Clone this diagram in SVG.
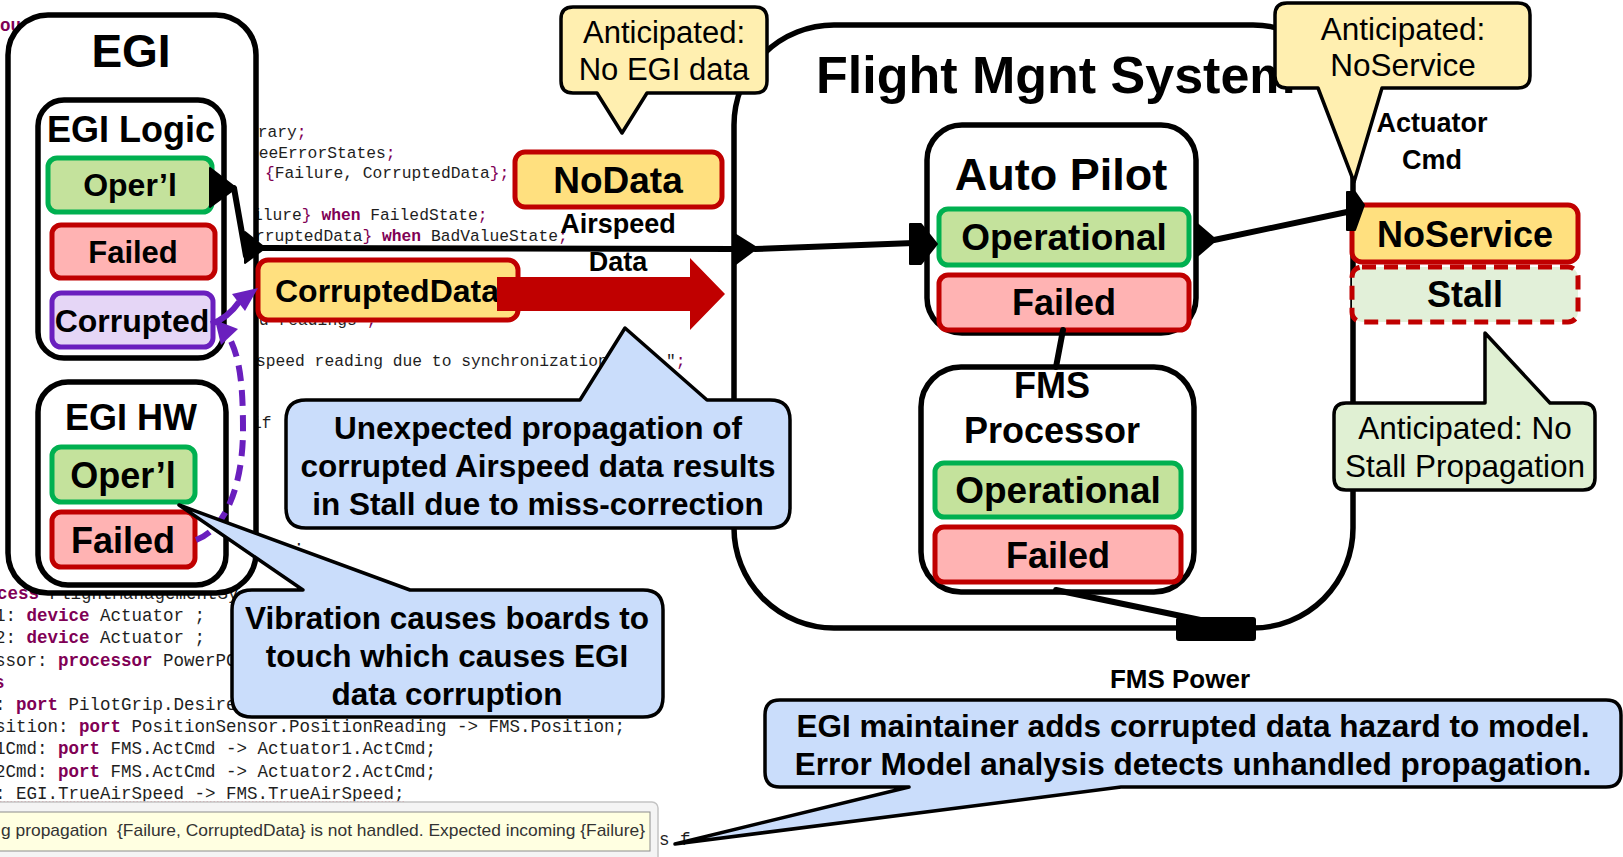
<svg xmlns="http://www.w3.org/2000/svg" width="1623" height="857" viewBox="0 0 1623 857">
  <defs>
    <style>
      .box{fill:#fff;stroke:#000;stroke-width:5.5}
      .ok{fill:#C4E29C;stroke:#00B050;stroke-width:5}
      .bad{fill:#FFB3B3;stroke:#C00000;stroke-width:5}
      .cor{fill:#E5D6F6;stroke:#6A1FBE;stroke-width:5}
      .haz{fill:#FFE07F;stroke:#C00000;stroke-width:5}
      .stall{fill:#E2F0D9;stroke:#C00000;stroke-width:5;stroke-dasharray:14 8}
      .lbl{font-family:"Liberation Sans",Arial,sans-serif;font-weight:bold;fill:#000;text-anchor:middle}
      .note{font-family:"Liberation Sans",Arial,sans-serif;fill:#000;text-anchor:middle}
      .co-y{fill:#FFEFB0;stroke:#000;stroke-width:3.5;stroke-linejoin:round}
      .co-b{fill:#CADDFB;stroke:#000;stroke-width:3.5;stroke-linejoin:round}
      .co-g{fill:#E0F0D3;stroke:#000;stroke-width:3.5;stroke-linejoin:round}
      .wire{stroke:#000;stroke-width:6;fill:none;stroke-linecap:round}
      .port{fill:#000;stroke:#000;stroke-width:2;stroke-linejoin:round}
      .err{stroke:#6A1FBE;stroke-width:6;fill:none}
      .code{font-family:"Liberation Mono","DejaVu Sans Mono",monospace;fill:#1E1E1E}
      .up{font-size:16.3px}
      .lo{font-size:17.5px}
      .kw{fill:#7F0055;font-weight:bold}
      .pn{fill:#7F0055}
    </style>
  </defs>

  <rect x="0" y="0" width="1623" height="857" fill="#fff"/>

  <!-- editor text behind the model -->
  <g id="code" xml:space="preserve">
    <text class="code lo kw" x="0" y="31" font-size="15">ou</text>

    <text class="code up" x="248" y="137">brary<tspan class="pn">;</tspan></text>
    <text class="code up" x="249" y="158">reeErrorStates<tspan class="pn">;</tspan></text>
    <text class="code up" x="265" y="178"><tspan class="pn">{</tspan>Failure, CorruptedData<tspan class="pn">};</tspan></text>
    <text class="code up" x="253" y="220">ilure<tspan class="pn">}</tspan> <tspan class="kw">when</tspan> FailedState<tspan class="pn">;</tspan></text>
    <text class="code up" x="255" y="241">rruptedData<tspan class="pn">}</tspan> <tspan class="kw">when</tspan> BadValueState<tspan class="pn">;</tspan></text>
    <text class="code up" x="259" y="325">d readings<tspan class="pn">";</tspan></text>
    <text class="code up" x="256" y="366">speed reading due to synchronization</text>
    <text class="code up" x="666" y="366">"<tspan class="pn">;</tspan></text>
    <text class="code up" x="252" y="428">if</text>
    <text class="code up" x="294" y="552">;</text>

    <text class="code lo" x="-3" y="599"><tspan class="kw">cess</tspan> FlightManagementSy</text>
    <text class="code lo" x="-5" y="621">1: <tspan class="kw">device</tspan> Actuator ;</text>
    <text class="code lo" x="-5" y="643">2: <tspan class="kw">device</tspan> Actuator ;</text>
    <text class="code lo" x="-5" y="666">ssor: <tspan class="kw">processor</tspan> PowerPC</text>
    <text class="code lo" x="-6" y="688"><tspan class="kw">s</tspan></text>
    <text class="code lo" x="-5" y="710">: <tspan class="kw">port</tspan> PilotGrip.Desire</text>
    <text class="code lo" x="-5" y="732">sition: <tspan class="kw">port</tspan> PositionSensor.PositionReading -&gt; FMS.Position;</text>
    <text class="code lo" x="-5" y="754">1Cmd: <tspan class="kw">port</tspan> FMS.ActCmd -&gt; Actuator1.ActCmd;</text>
    <text class="code lo" x="-5" y="777">2Cmd: <tspan class="kw">port</tspan> FMS.ActCmd -&gt; Actuator2.ActCmd;</text>
    <text class="code lo" x="-5" y="799">: EGI.TrueAirSpeed -&gt; FMS.TrueAirSpeed;</text>
    <line x1="0" y1="802" x2="404" y2="802" stroke="#E06878" stroke-width="1.5" stroke-dasharray="1.5 2"/>
    <text class="code lo" x="659" y="845">s f</text>
  </g>

  <!-- problem hover -->
  <g id="tooltip">
    <rect x="-10" y="802" width="668" height="70" rx="6" fill="#F4F4F4" stroke="#C4C4C4" stroke-width="1.5"/>
    <rect x="-10" y="812" width="660" height="39" fill="#FFFFE1" stroke="#8C8C8C" stroke-width="1"/>
    <text x="1" y="836" font-family="'Liberation Sans',Arial,sans-serif" font-size="17" fill="#333" textLength="644" lengthAdjust="spacingAndGlyphs">g propagation&#160; {Failure, CorruptedData} is not handled. Expected incoming {Failure}</text>
  </g>

  <!-- Flight Management System -->
  <g id="fms">
    <rect class="box" x="734" y="25" width="619" height="603" rx="100"/>
    <text class="lbl" x="816" y="93" font-size="52" style="text-anchor:start">Flight Mgnt System</text>
  </g>

  <g id="autopilot">
    <rect class="box" x="927" y="125" width="269" height="208" rx="35"/>
    <text class="lbl" x="1061" y="190" font-size="45">Auto Pilot</text>
    <rect class="ok" x="939" y="209" width="250" height="56" rx="9"/>
    <text class="lbl" x="1064" y="250" font-size="37">Operational</text>
    <rect class="bad" x="939" y="275" width="250" height="55" rx="9"/>
    <text class="lbl" x="1064" y="315" font-size="36">Failed</text>
  </g>

  <g id="fms-processor">
    <rect class="box" x="921" y="367" width="273" height="225" rx="40"/>
    <text class="lbl" x="1052" y="398" font-size="36">FMS</text>
    <text class="lbl" x="1052" y="443" font-size="36">Processor</text>
    <rect class="ok" x="935" y="463" width="246" height="54" rx="9"/>
    <text class="lbl" x="1058" y="503" font-size="37">Operational</text>
    <rect class="bad" x="935" y="527" width="246" height="55" rx="9"/>
    <text class="lbl" x="1058" y="568" font-size="36">Failed</text>
  </g>

  <!-- EGI -->
  <g id="egi">
    <rect class="box" x="8" y="15" width="248" height="578" rx="40"/>
    <text class="lbl" x="131" y="67" font-size="46">EGI</text>
  </g>

  <g id="egi-logic">
    <rect class="box" x="38" y="100" width="186" height="258" rx="26"/>
    <text class="lbl" x="131" y="142" font-size="36">EGI Logic</text>
    <rect class="ok" x="48" y="158" width="164" height="54" rx="9"/>
    <text class="lbl" x="130" y="196" font-size="32">Oper’l</text>
    <rect class="bad" x="52" y="225" width="163" height="53" rx="9"/>
    <text class="lbl" x="133" y="263" font-size="31">Failed</text>
    <rect class="cor" x="52" y="293" width="161" height="54" rx="9"/>
    <text class="lbl" x="132" y="332" font-size="32">Corrupted</text>
  </g>

  <g id="egi-hw">
    <rect class="box" x="38" y="382" width="188" height="203" rx="30"/>
    <text class="lbl" x="131" y="430" font-size="36">EGI HW</text>
    <rect class="ok" x="52" y="447" width="143" height="55" rx="9"/>
    <text class="lbl" x="123" y="488" font-size="36">Oper’l</text>
    <rect class="bad" x="52" y="512" width="143" height="55" rx="9"/>
    <text class="lbl" x="123" y="553" font-size="36">Failed</text>
  </g>

  <!-- propagated error types -->
  <g id="nodata">
    <rect class="haz" x="515" y="152" width="207" height="55" rx="10"/>
    <text class="lbl" x="618" y="193" font-size="37">NoData</text>
  </g>
  <g id="corrupteddata">
    <rect class="haz" x="258" y="260" width="260" height="60" rx="10"/>
    <text class="lbl" x="275" y="302" font-size="32" style="text-anchor:start">CorruptedData</text>
  </g>
  <g id="noservice">
    <rect class="haz" x="1352" y="205" width="226" height="57" rx="10"/>
    <text class="lbl" x="1465" y="247" font-size="36">NoService</text>
  </g>
  <g id="stall">
    <rect class="stall" x="1352" y="267" width="226" height="55" rx="10"/>
    <text class="lbl" x="1465" y="307" font-size="36">Stall</text>
  </g>

  <!-- connections -->
  <g id="connectors">
    <line class="wire" x1="234" y1="188" x2="246" y2="256"/>
    <line class="wire" x1="262" y1="248" x2="734" y2="249" stroke-linecap="butt"/>
    <line class="wire" x1="755" y1="249" x2="914" y2="243"/>
    <line class="wire" x1="1214" y1="240" x2="1347" y2="212"/>
    <line class="wire" x1="1063" y1="330" x2="1056" y2="367"/>
    <line class="wire" x1="1056" y1="590" x2="1210" y2="622"/>
    <polygon class="port" points="210,168 236,188 210,207"/>
    <polygon class="port" points="245,232 265,248 245,263"/>
    <polygon class="port" points="733,233 757,248 733,266"/>
    <polygon class="port" points="910,224 921,224 937,244 921,264 910,264"/>
    <polygon class="port" points="1195,222 1216,240 1195,258"/>
    <polygon class="port" points="1347,192 1355,192 1364,205 1355,230 1347,230"/>
    <rect x="1176" y="617" width="80" height="24" rx="3" fill="#000"/>
    <path d="M497,277 H690 V258 L725,294 L690,330 V311 H497 Z" fill="#C00000"/>
    <path class="err" d="M196,540 C228,528 243,480 243,430 C243,385 240,358 229,337" stroke-dasharray="16 9"/>
    <polygon points="215,320 238,329 221,345" fill="#6A1FBE"/>
    <path class="err" d="M211,324 Q228,318 239,302"/>
    <polygon points="258,288 232,294 245,311" fill="#6A1FBE"/>
  </g>

  <!-- connection labels -->
  <g id="labels">
    <text class="lbl" x="618" y="233" font-size="27">Airspeed</text>
    <text class="lbl" x="618" y="271" font-size="27">Data</text>
    <text class="lbl" x="1432" y="132" font-size="27">Actuator</text>
    <text class="lbl" x="1432" y="169" font-size="27">Cmd</text>
    <text class="lbl" x="1180" y="688" font-size="26">FMS Power</text>
  </g>

  <!-- annotations -->
  <g id="note-no-egi-data">
    <path class="co-y" d="M573,7 H755 Q767,7 767,19 V81 Q767,93 755,93 H647 L622,133 L597,93 H573 Q561,93 561,81 V19 Q561,7 573,7 Z"/>
    <text class="note" x="664" y="43" font-size="31">Anticipated:</text>
    <text class="note" x="664" y="80" font-size="31">No EGI data</text>
  </g>
  <g id="note-noservice">
    <path class="co-y" d="M1287,3 H1518 Q1530,3 1530,15 V76 Q1530,88 1518,88 H1382 L1354,182 L1318,88 H1287 Q1275,88 1275,76 V15 Q1275,3 1287,3 Z"/>
    <text class="note" x="1403" y="40" font-size="31.5">Anticipated:</text>
    <text class="note" x="1403" y="76" font-size="31.5">NoService</text>
  </g>
  <g id="note-no-stall">
    <path class="co-g" d="M1346,403 H1485 V333 L1550,403 H1583 Q1595,403 1595,415 V478 Q1595,490 1583,490 H1346 Q1334,490 1334,478 V415 Q1334,403 1346,403 Z"/>
    <text class="note" x="1465" y="439" font-size="31.5">Anticipated: No</text>
    <text class="note" x="1465" y="477" font-size="31.5">Stall Propagation</text>
  </g>
  <g id="note-unexpected">
    <path class="co-b" d="M306,400 H580 L625,328 L707,400 H770 Q790,400 790,420 V508 Q790,528 770,528 H306 Q286,528 286,508 V420 Q286,400 306,400 Z"/>
    <text class="lbl" x="538" y="439" font-size="31.5">Unexpected propagation of</text>
    <text class="lbl" x="538" y="477" font-size="31.5">corrupted Airspeed data results</text>
    <text class="lbl" x="538" y="515" font-size="31.5">in Stall due to miss-correction</text>
  </g>
  <g id="note-vibration">
    <path class="co-b" d="M252,590 H303 L179,505 L410,590 H643 Q663,590 663,610 V697 Q663,717 643,717 H252 Q232,717 232,697 V610 Q232,590 252,590 Z"/>
    <text class="lbl" x="447" y="629" font-size="31.5">Vibration causes boards to</text>
    <text class="lbl" x="447" y="667" font-size="31.5">touch which causes EGI</text>
    <text class="lbl" x="447" y="705" font-size="31.5">data corruption</text>
  </g>
  <g id="note-analysis">
    <path class="co-b" d="M780,700 H1606 Q1621,700 1621,715 V772 Q1621,787 1606,787 H1121 L675,844 L909,787 H780 Q765,787 765,772 V715 Q765,700 780,700 Z"/>
    <text class="lbl" x="1193" y="737" font-size="31.5">EGI maintainer adds corrupted data hazard to model.</text>
    <text class="lbl" x="1193" y="775" font-size="31.5">Error Model analysis detects unhandled propagation.</text>
  </g>
</svg>
